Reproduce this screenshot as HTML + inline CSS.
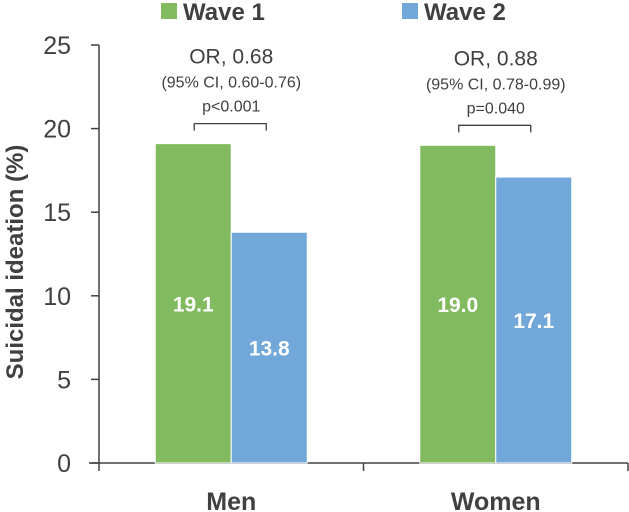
<!DOCTYPE html>
<html><head><meta charset="utf-8"><style>
body{margin:0;background:#fff;}
svg{display:block;font-family:"Liberation Sans",sans-serif;}
</style></head><body>
<svg id="chart" width="629" height="512">
<g id="legend">
 <rect x="161" y="3" width="16" height="16" fill="#82bb5f"/>
 <text x="183" y="20" font-size="24" font-weight="bold" fill="#404040">Wave 1</text>
 <rect x="402" y="3" width="16" height="16" fill="#72a7d9"/>
 <text x="424" y="20" font-size="24" font-weight="bold" fill="#404040">Wave 2</text>
</g>
<text transform="translate(23,262) rotate(-90)" text-anchor="middle" font-size="24" font-weight="bold" fill="#404040">Suicidal ideation (%)</text>
<g id="axes"></g><g id="bars"></g><g id="annot"></g>
</svg>
<script>
const categories=["Men","Women"];
const wave1=[19.1,19.0];
const wave2=[13.8,17.1];
const yTicks=[0,5,10,15,20,25];
const orLabels=["OR, 0.68","OR, 0.88"];
const ciLabels=["(95% CI, 0.60-0.76)","(95% CI, 0.78-0.99)"];
const pLabels=["p<0.001","p=0.040"];
const NS="http://www.w3.org/2000/svg";
const x0=99,x1=628,y0=463,y1=45,ymax=25;
const band=(x1-x0)/categories.length;
const y=v=>y0-(y0-y1)*v/ymax;
const xc=i=>x0+band*(i+0.5);
function mk(t,a,p,txt){const e=document.createElementNS(NS,t);for(const k in a)e.setAttribute(k,a[k]);if(txt!==undefined)e.textContent=txt;document.getElementById(p).appendChild(e);return e;}
let e;
e=mk("line",{x1:x0,y1:y1,x2:x0,y2:y0,stroke:"#404040","stroke-width":1.5},"axes");


e=mk("line",{x1:x0-10,y1:y0,x2:x1,y2:y0,stroke:"#404040","stroke-width":1.5},"axes");


yTicks.forEach(t=>{
 e=mk("line",{x1:x0-8,y1:y(t),x2:x0,y2:y(t),stroke:"#404040","stroke-width":1.5},"axes");
 
 
 e=mk("text",{x:71,y:y(t)+9,"text-anchor":"end","font-size":25,fill:"#404040"},"axes",String(t));
 
 
});
for(let i=0;i<=categories.length;i++){
 e=mk("line",{x1:x0+band*i,y1:y0,x2:x0+band*i,y2:y0+8,stroke:"#404040","stroke-width":1.5},"axes");
 
 
}
const bw=76;
categories.forEach((c,i)=>{
 const cx=xc(i);
 e=mk("text",{x:cx,y:510,"text-anchor":"middle","font-size":25,"font-weight":"bold",fill:"#404040"},"axes",c);
 
 
 [[wave1,"#82bb5f",cx-bw],[wave2,"#72a7d9",cx]].forEach(([s,col,bx],k)=>{
  const v=s[i];
  e=mk("rect",{x:bx,y:y(v),width:bw,height:y0-y(v),fill:col,stroke:"#fff","stroke-width":1},"bars");
  
  
  e=mk("text",{x:bx+bw/2,y:(y(v)+y0)/2+8,"text-anchor":"middle","font-size":21,"font-weight":"bold",fill:"#fff"},"bars",v.toFixed(1));
  
  
 });
 const top=Math.max(wave1[i],wave2[i]);
 const by=y(top)-20;
 e=mk("path",{d:`M${cx-37},${by+7}V${by}H${cx+35}V${by+7}`,fill:"none",stroke:"#404040","stroke-width":1.3},"annot");
 
 
 e=mk("text",{x:cx,y:by-12,"text-anchor":"middle","font-size":16,fill:"#404040"},"annot",pLabels[i]);
 
 
 e=mk("text",{x:cx,y:by-36,"text-anchor":"middle","font-size":16,fill:"#404040"},"annot",ciLabels[i]);
 
 
 e=mk("text",{x:cx,y:by-60,"text-anchor":"middle","font-size":21,fill:"#404040"},"annot",orLabels[i]);
 
 
});
</script>
</body></html>
